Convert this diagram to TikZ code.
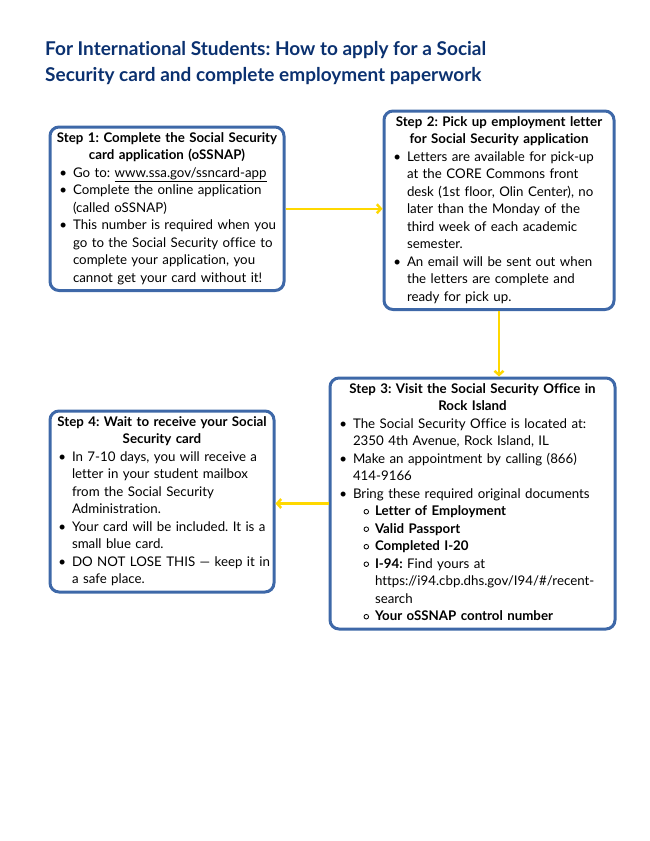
\documentclass[tikz,border=0pt]{standalone}
\usepackage{fontspec}
\setmainfont{Lato}[Ligatures=NoCommon]
\usepackage{enumitem}
\usetikzlibrary{arrows.meta}

\definecolor{titleblue}{HTML}{0B3170}
\definecolor{boxblue}{HTML}{3E68A8}
\definecolor{arrowyellow}{HTML}{FFD800}

\newcommand{\subdot}{\tikz[baseline=-0.6ex]\draw[draw=black,line width=0.8pt] (0,0) circle (2.3pt);}

\setlist[itemize,1]{label=\textbullet,leftmargin=18pt,labelsep=6pt,itemsep=0pt,parsep=0pt,topsep=0pt,partopsep=0pt}
\setlist[itemize,2]{label=\subdot,leftmargin=22pt,labelsep=6pt,itemsep=0pt,parsep=0pt,topsep=0pt,partopsep=0pt}
\frenchspacing

\begin{document}
\begin{tikzpicture}[x=1pt,y=-1pt,
stepbox/.style={draw=boxblue,line width=3pt,rounded corners=9pt,anchor=north west,
  inner xsep=5pt,inner ysep=3pt,align=left,font=\fontsize{13.3}{17.5}\selectfont},% one style for every step
flow/.style={draw=arrowyellow,line width=2.5pt,-{Straight Barb[length=4pt,width=9pt]}}
]
\useasboundingbox (0,0) rectangle (650,841);

% title
\node[anchor=north west,align=left,text=titleblue,inner sep=0pt,
  font=\fontsize{19}{26}\selectfont\bfseries] (title) at (45,41)
  {For International Students: How to apply for a Social\\
   Security card and complete employment paperwork};

% steps
\node[stepbox,text width=224pt] (step1) at (48.5,125.5) {%
{\centering\bfseries\strut Step 1: Complete the Social Security\\ card application (oSSNAP)\par}
\begin{itemize}
\item Go to: \underline{www.ssa.gov/ssncard-app}
\item Complete the online application\newline (called oSSNAP)
\item This number is required when you\newline go to the Social Security office to\newline complete your application, you\newline cannot get your card without it!\strut
\end{itemize}};

\node[stepbox,text width=220pt] (step2) at (382.5,109.5) {%
{\centering\bfseries\strut Step 2: Pick up employment letter\\ for Social Security application\par}
\begin{itemize}
\item Letters are available for pick-up\newline at the CORE Commons front\newline desk (1st floor, Olin Center), no\newline later than the Monday of the\newline third week of each academic\newline semester.
\item An email will be sent out when\newline the letters are complete and\newline ready for pick up.\strut
\end{itemize}};

\node[stepbox,text width=275pt] (step3) at (328.5,376.5) {%
{\centering\bfseries\strut Step 3: Visit the Social Security Office in\\ Rock Island\par}
\begin{itemize}
\item The Social Security Office is located at:\newline 2350 4th Avenue, Rock Island, IL
\item Make an appointment by calling (866)\newline 414-9166
\item Bring these required original documents
  \begin{itemize}
  \item \textbf{Letter of Employment}
  \item \textbf{Valid Passport}
  \item \textbf{Completed I-20}
  \item \textbf{I-94:} Find yours at\newline https://i94.cbp.dhs.gov/I94/\#/recent-\newline search
  \item \textbf{Your oSSNAP control number}\strut
  \end{itemize}
\end{itemize}};

\node[stepbox,inner xsep=4pt,text width=216pt] (step4) at (48.5,409.5) {%
{\centering\bfseries\strut Step 4: Wait to receive your Social\\ Security card\par}
\begin{itemize}
\item In 7-10 days, you will receive a\newline letter in your student mailbox\newline from the Social Security\newline Administration.
\item Your card will be included. It is a\newline small blue card.
\item \makebox[\linewidth][l]{DO NOT LOSE THIS — keep it in}\newline a safe place.\strut
\end{itemize}};

% arrows between steps
\draw[flow] (step1.east) -- (step1.east -| step2.west);
\draw[flow] (step2.south) -- (step2.south |- step3.north);
\draw[flow] (step3.west) -- (step3.west -| step4.east);
\end{tikzpicture}
\end{document}
